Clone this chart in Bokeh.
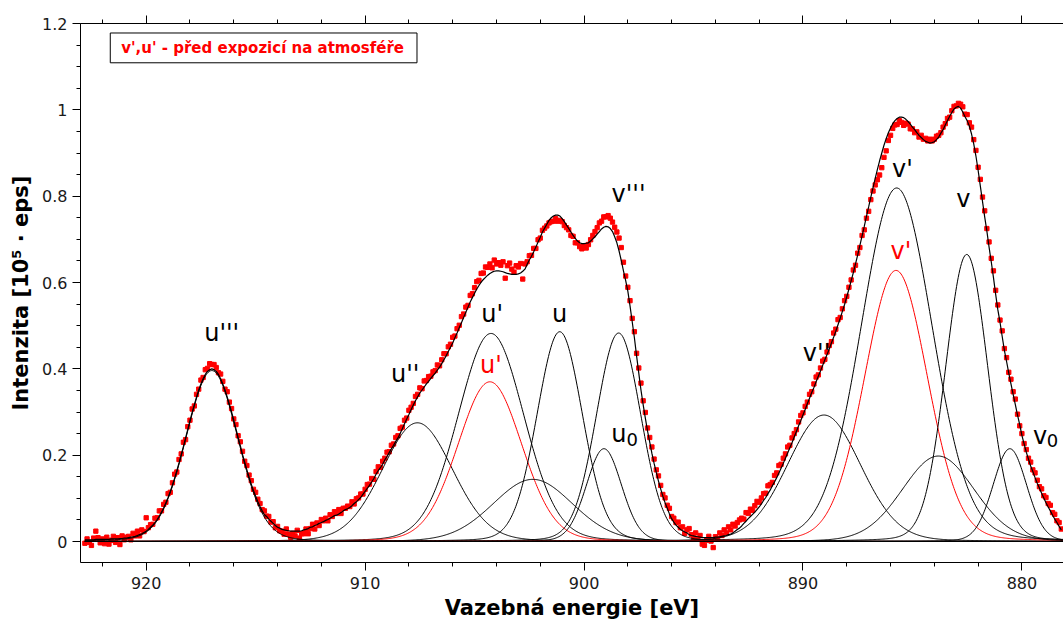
import numpy as np
from bokeh.plotting import figure
from bokeh.models import (Range1d, FixedTicker, LinearAxis, BoxAnnotation, Label,
                          ColumnDataSource, CustomJSTickFormatter)
from bokeh.core.properties import value
from bokeh.embed import file_html
from bokeh.resources import INLINE

# ---- binding-energy grid of the measured points (eV), 0.1 eV step ----
e_start, e_step, n_pts = 922.8, 0.1, 447

# ---- measured intensity (x1000, units of 10^5 cps), from 922.8 eV down to 878.2 eV ----
meas_x1000 = [
    -4, 6, -2, -9, 8, 24, 9, -3, 6, -5,
    10, -6, 3, 12, -2, 9, -7, 13, 4, 10,
    12, 4, 19, 13, 24, 13, 27, 23, 55, 32,
    39, 40, 54, 55, 71, 71, 86, 91, 111, 114,
    136, 156, 161, 190, 203, 230, 236, 266, 281, 307,
    314, 341, 353, 374, 380, 398, 401, 412, 410, 410,
    403, 391, 388, 371, 353, 347, 323, 308, 284, 271,
    245, 231, 209, 186, 176, 154, 141, 121, 114, 98,
    88, 74, 71, 59, 58, 45, 46, 32, 35, 25,
    24, 17, 29, 17, 10, 19, 13, 26, 8, 18,
    18, 29, 18, 30, 40, 29, 43, 37, 51, 48,
    54, 48, 62, 58, 69, 65, 74, 65, 77, 77,
    82, 81, 92, 87, 99, 101, 110, 110, 121, 132,
    133, 146, 144, 162, 173, 172, 186, 193, 207, 208,
    223, 226, 241, 245, 262, 265, 281, 286, 304, 311,
    320, 336, 341, 356, 354, 372, 373, 382, 383, 393,
    396, 409, 407, 421, 435, 435, 451, 457, 473, 476,
    493, 501, 521, 527, 543, 547, 570, 574, 588, 602,
    605, 621, 622, 636, 635, 643, 634, 652, 643, 646,
    640, 648, 610, 639, 645, 631, 624, 639, 636, 644,
    608, 643, 648, 662, 663, 679, 679, 699, 703, 721,
    726, 731, 738, 741, 742, 748, 742, 744, 741, 732,
    727, 722, 709, 707, 692, 692, 683, 678, 685, 680,
    688, 699, 709, 718, 727, 738, 742, 752, 752, 755,
    749, 740, 728, 717, 703, 681, 647, 615, 589, 558,
    517, 486, 436, 402, 367, 326, 299, 263, 241, 219,
    191, 166, 152, 130, 109, 101, 84, 77, 58, 54,
    44, 45, 32, 34, 19, 27, 30, 16, 8, 20,
    5, 14, -6, -9, 3, 12, 1, -14, 11, 6,
    20, 14, 27, 20, 34, 27, 40, 36, 44, 50,
    54, 52, 67, 65, 75, 72, 83, 93, 91, 101,
    111, 112, 129, 132, 137, 153, 159, 176, 179, 193,
    203, 219, 223, 240, 250, 259, 277, 292, 298, 313,
    323, 341, 347, 365, 381, 386, 402, 418, 422, 439,
    454, 463, 483, 492, 514, 519, 539, 558, 568, 589,
    606, 629, 640, 668, 681, 709, 722, 749, 765, 792,
    812, 826, 838, 849, 866, 890, 905, 929, 941, 957,
    965, 966, 975, 971, 964, 969, 967, 956, 956, 947,
    949, 937, 941, 932, 934, 928, 932, 928, 932, 939,
    941, 947, 960, 968, 980, 983, 998, 1008, 1009, 1015,
    1013, 1007, 990, 989, 970, 960, 931, 906, 867, 839,
    798, 766, 725, 694, 656, 627, 582, 548, 513, 488,
    447, 426, 392, 376, 347, 330, 295, 268, 250, 227,
    213, 193, 184, 166, 159, 142, 127, 122, 106, 102,
    88, 84, 67, 63, 48, 44, 29,
]

# ---- fit envelope (x1000), same grid ----
fit_x1000 = [
    4, 4, 4, 4, 4, 5, 5, 5, 5, 5,
    5, 5, 6, 6, 6, 6, 7, 7, 8, 8,
    9, 10, 11, 12, 14, 16, 18, 21, 24, 28,
    33, 38, 44, 51, 59, 68, 78, 90, 102, 116,
    131, 147, 164, 182, 201, 220, 240, 260, 280, 299,
    317, 335, 351, 365, 377, 387, 394, 398, 400, 398,
    394, 387, 377, 365, 351, 335, 318, 300, 281, 261,
    241, 222, 202, 184, 166, 149, 133, 118, 105, 92,
    81, 71, 62, 58, 52, 47, 42, 37, 33, 31,
    28, 27, 26, 25, 24, 24, 24, 24, 24, 25,
    27, 28, 30, 33, 34, 37, 39, 42, 44, 46,
    49, 51, 54, 57, 60, 61, 64, 67, 71, 74,
    76, 79, 83, 88, 92, 97, 102, 109, 116, 123,
    130, 138, 146, 156, 164, 171, 179, 189, 197, 206,
    215, 223, 232, 240, 250, 261, 273, 284, 294, 305,
    316, 326, 335, 344, 351, 358, 365, 371, 378, 384,
    390, 397, 404, 412, 421, 430, 440, 450, 460, 472,
    483, 495, 507, 519, 531, 543, 555, 565, 575, 585,
    593, 601, 607, 612, 617, 621, 624, 626, 627, 627,
    626, 625, 623, 621, 620, 619, 619, 619, 620, 622,
    626, 631, 642, 652, 661, 671, 682, 694, 705, 717,
    726, 735, 744, 750, 754, 756, 756, 754, 748, 741,
    733, 725, 717, 709, 702, 696, 692, 690, 690, 691,
    692, 696, 701, 706, 712, 718, 724, 728, 730, 729,
    725, 718, 706, 692, 673, 651, 627, 605, 580, 546,
    509, 472, 430, 390, 351, 317, 286, 256, 230, 204,
    181, 160, 140, 122, 105, 90, 77, 64, 53, 45,
    38, 33, 28, 25, 22, 20, 16, 14, 13, 12,
    11, 10, 9, 9, 9, 9, 9, 9, 10, 10,
    11, 12, 13, 14, 16, 17, 20, 24, 28, 31,
    36, 42, 47, 53, 58, 63, 68, 74, 80, 87,
    95, 102, 111, 119, 129, 138, 148, 159, 170, 181,
    193, 205, 217, 229, 242, 255, 268, 280, 293, 306,
    319, 332, 345, 357, 370, 383, 395, 408, 421, 433,
    446, 460, 473, 487, 502, 517, 533, 549, 567, 585,
    604, 623, 643, 664, 686, 708, 730, 753, 775, 798,
    820, 841, 862, 882, 900, 918, 933, 947, 958, 968,
    975, 980, 983, 983, 982, 978, 973, 967, 960, 954,
    947, 941, 936, 931, 927, 925, 923, 924, 926, 931,
    937, 946, 954, 965, 975, 985, 994, 1002, 1006, 1008,
    1004, 995, 984, 975, 962, 944, 921, 893, 860, 824,
    788, 752, 719, 682, 648, 612, 573, 537, 508, 475,
    443, 417, 390, 365, 341, 317, 293, 271, 246, 226,
    207, 191, 175, 162, 148, 135, 124, 112, 101, 90,
    80, 71, 61, 52, 44, 35, 27,
]

# ---- fitted components: centre (eV), height, FWHM (eV), colour ----
comp_center = [917.0, 907.61, 904.25, 904.3, 902.34, 901.11, 899.09, 898.42,
               889.04, 885.72, 885.75, 883.82, 882.52, 880.55]
comp_height = [0.396, 0.275, 0.482, 0.370, 0.144, 0.486, 0.215, 0.483,
               0.293, 0.819, 0.628, 0.198, 0.665, 0.215]
comp_fwhm = [2.8, 3.8, 3.55, 3.45, 4.3, 2.45, 1.9, 2.4,
             3.95, 3.85, 3.4, 3.9, 2.28, 1.82]
comp_color = ["black", "black", "black", "red", "black", "black", "black", "black",
              "black", "black", "red", "black", "black", "black"]
lorentz_frac = 0.1

# ---- peak labels ----
lab_text = ["u'''", "u''", "u'", "u'", "u", "u", "v'''", "v''", "v'", "v'", "v", "v"]
lab_x = [916.55, 908.17, 904.2, 904.25, 901.12, 898.41, 897.97, 889.38, 885.46, 885.53, 882.68, 879.17]
lab_y = [0.482, 0.387, 0.528, 0.410, 0.528, 0.250, 0.806, 0.436, 0.863, 0.672, 0.794, 0.244]
lab_color = ["black", "black", "black", "red", "black", "black", "black", "black", "black", "red", "black", "black"]
sub_text = ["0", "0"]
sub_x = [897.80, 878.60]
sub_y = [0.237, 0.233]

legend_text = "v',u' - před expozicí na atmosféře"

x_major = [920, 910, 900, 890, 880]
y_major = [0, 0.2, 0.4, 0.6, 0.8, 1.0, 1.2]

energy = np.round(e_start - e_step * np.arange(n_pts), 2)
meas = np.array(meas_x1000) / 1000.0
fit = np.array(fit_x1000) / 1000.0


def pv(x, c, h, w):
    d2 = 4.0 * (x - c) ** 2 / w ** 2
    return h * ((1 - lorentz_frac) * np.exp(-np.log(2) * d2) + lorentz_frac / (1 + d2))


xs = np.linspace(922.8, 878.1, 1200)

p = figure(width=1063, height=627, x_range=Range1d(923.0, 878.1), y_range=Range1d(-0.0486, 1.2),
           output_backend="svg", toolbar_location=None,
           min_border_left=80, min_border_right=0, min_border_top=23, min_border_bottom=65)
p.xgrid.visible = False
p.ygrid.visible = False
p.outline_line_color = None
p.background_fill_color = "white"
p.border_fill_color = "white"

xt = FixedTicker(ticks=x_major, minor_ticks=list(range(878, 924, 2)))
yt = FixedTicker(ticks=y_major, minor_ticks=[round(0.05 * i, 2) for i in range(0, 25)])


def style_axis(ax):
    ax.axis_line_color = "black"
    ax.axis_line_width = 1
    ax.major_tick_line_color = "black"
    ax.minor_tick_line_color = "black"
    ax.major_tick_out = 8
    ax.major_tick_in = 0
    ax.minor_tick_out = 4
    ax.minor_tick_in = 0
    ax.major_label_text_font = "DejaVu Sans"
    ax.major_label_text_font_size = "16px"
    ax.major_label_text_color = "#1a1a1a"
    ax.axis_label_text_font = "DejaVu Sans"
    ax.axis_label_text_font_style = "bold"
    ax.axis_label_text_font_size = "21px"
    ax.axis_label_text_color = "black"


p.xaxis.ticker = xt
p.yaxis.ticker = yt
p.yaxis.formatter = CustomJSTickFormatter(code="return String(Math.round(tick*100)/100)")
style_axis(p.xaxis[0])
style_axis(p.yaxis[0])
p.xaxis.axis_label = "Vazebná energie [eV]"
p.yaxis.axis_label = "Intenzita [10\u2075 \u00b7 eps]"
p.xaxis.major_label_standoff = 6
p.xaxis.axis_label_standoff = 4
p.yaxis.major_label_standoff = 5
p.yaxis.axis_label_standoff = 6

top = LinearAxis(ticker=xt)
style_axis(top)
top.major_label_text_font_size = "1px"
top.major_label_text_color = None
top.major_label_standoff = 0
p.add_layout(top, "above")

# measured points
src = ColumnDataSource(dict(x=energy, y=meas))
p.scatter("x", "y", source=src, marker="square", size=4.3, color="#ff0000")

# components
for c, h, w, col in zip(comp_center, comp_height, comp_fwhm, comp_color):
    p.line(xs, pv(xs, c, h, w), line_color=col, line_width=1)
# fit envelope
p.line(energy, fit, line_color="black", line_width=1.2)

lsrc = ColumnDataSource(dict(x=lab_x, y=lab_y, t=lab_text, c=lab_color))
p.text("x", "y", text="t", text_color="c", source=lsrc, text_align="center",
       text_baseline="alphabetic", text_font=value("DejaVu Sans"), text_font_size="24px")
ssrc = ColumnDataSource(dict(x=sub_x, y=sub_y, t=sub_text))
p.text("x", "y", text="t", source=ssrc, text_color="black", text_align="center",
       text_baseline="alphabetic", text_font=value("DejaVu Sans"), text_font_size="18px")

p.add_layout(BoxAnnotation(left=921.64, right=907.63, top=1.178, bottom=1.109,
                           fill_color="white", fill_alpha=1, line_color="black",
                           line_alpha=1, line_width=1))
p.add_layout(Label(x=921.14, y=1.1435, text=legend_text,
                   text_color="red", text_font_style="bold", text_font_size="15px",
                   text_baseline="middle", text_font="DejaVu Sans"))

open("out.html", "w").write(file_html(p, INLINE))
